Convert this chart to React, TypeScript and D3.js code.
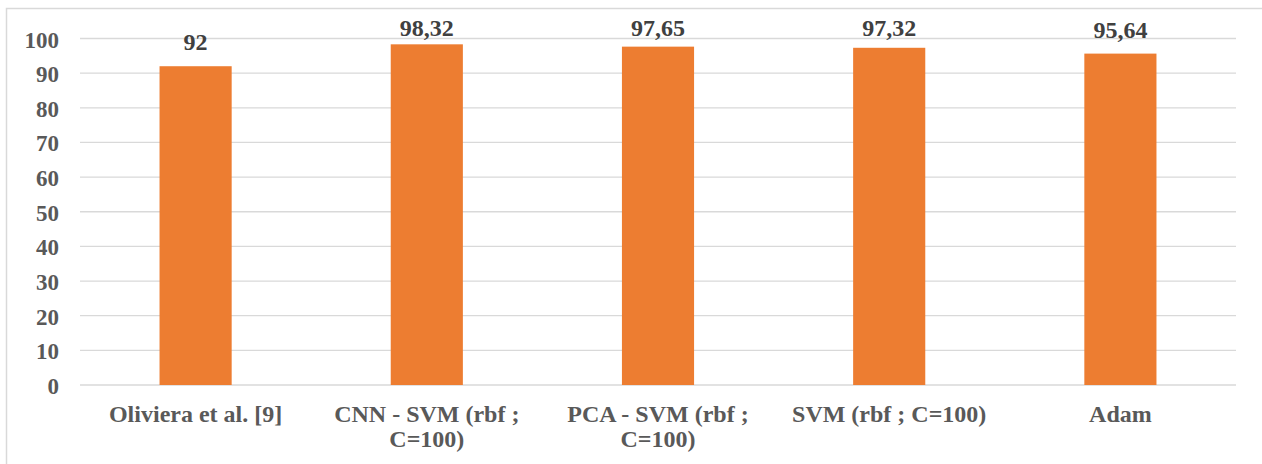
import React from "react";
import * as d3 from "d3";

const categories = [
  "Oliviera et al. [9]",
  "CNN - SVM (rbf ;\nC=100)",
  "PCA - SVM (rbf ;\nC=100)",
  "SVM (rbf ; C=100)",
  "Adam",
];
const values = [92, 98.32, 97.65, 97.32, 95.64];
const valueLabels = ["92", "98,32", "97,65", "97,32", "95,64"];
const yTicks = [0, 10, 20, 30, 40, 50, 60, 70, 80, 90, 100];

const W = 1262;
const H = 464;
const plotLeft = 80;
const plotRight = 1236;
const yTop = 38.5;
const yBottom = 385;
const FONT = "Liberation Serif";

export default function App() {
  const x = d3
    .scaleBand<string>()
    .domain(categories)
    .range([plotLeft, plotRight])
    .padding(0);
  const y = d3.scaleLinear().domain([0, 100]).range([yBottom, yTop]);
  const barW = x.bandwidth() * 0.312;

  return (
    <svg
      width={W}
      height={H}
      style={{ position: "absolute", left: 0, top: 0 }}
    >
      <rect x={0} y={0} width={W} height={H} fill="#fff" />
      <rect
        x={6.5}
        y={8.5}
        width={W + 10}
        height={H + 10}
        fill="none"
        stroke="#D9D9D9"
        strokeWidth={1.5}
      />
      {yTicks.map((t) => (
        <g key={t}>
          <line
            x1={plotLeft}
            x2={plotRight}
            y1={y(t)}
            y2={y(t)}
            stroke="#D9D9D9"
            strokeWidth={1.3}
          />
          <text
            x={59}
            y={y(t) + 9}
            textAnchor="end"
            fontSize={23}
            fontWeight="bold"
            fill="#595959"
            style={{ fontFamily: FONT }}
          >
            {t}
          </text>
        </g>
      ))}
      {categories.map((c, i) => {
        const cx = (x(c) as number) + x.bandwidth() / 2;
        const labelY = Math.max(y(values[i]) - 16, 36);
        return (
          <g key={c}>
            <rect
              x={cx - barW / 2}
              y={y(values[i])}
              width={barW}
              height={y(0) - y(values[i])}
              fill="#ED7D31"
            />
            <text
              x={cx}
              y={labelY}
              textAnchor="middle"
              fontSize={24}
              fontWeight="bold"
              fill="#404040"
              style={{ fontFamily: FONT }}
            >
              {valueLabels[i]}
            </text>
            {c.split("\n").map((line, j) => (
              <text
                key={j}
                x={cx}
                y={422 + j * 25}
                textAnchor="middle"
                fontSize={24}
                fontWeight="bold"
                fill="#595959"
                style={{ fontFamily: FONT }}
              >
                {line}
              </text>
            ))}
          </g>
        );
      })}
    </svg>
  );
}
